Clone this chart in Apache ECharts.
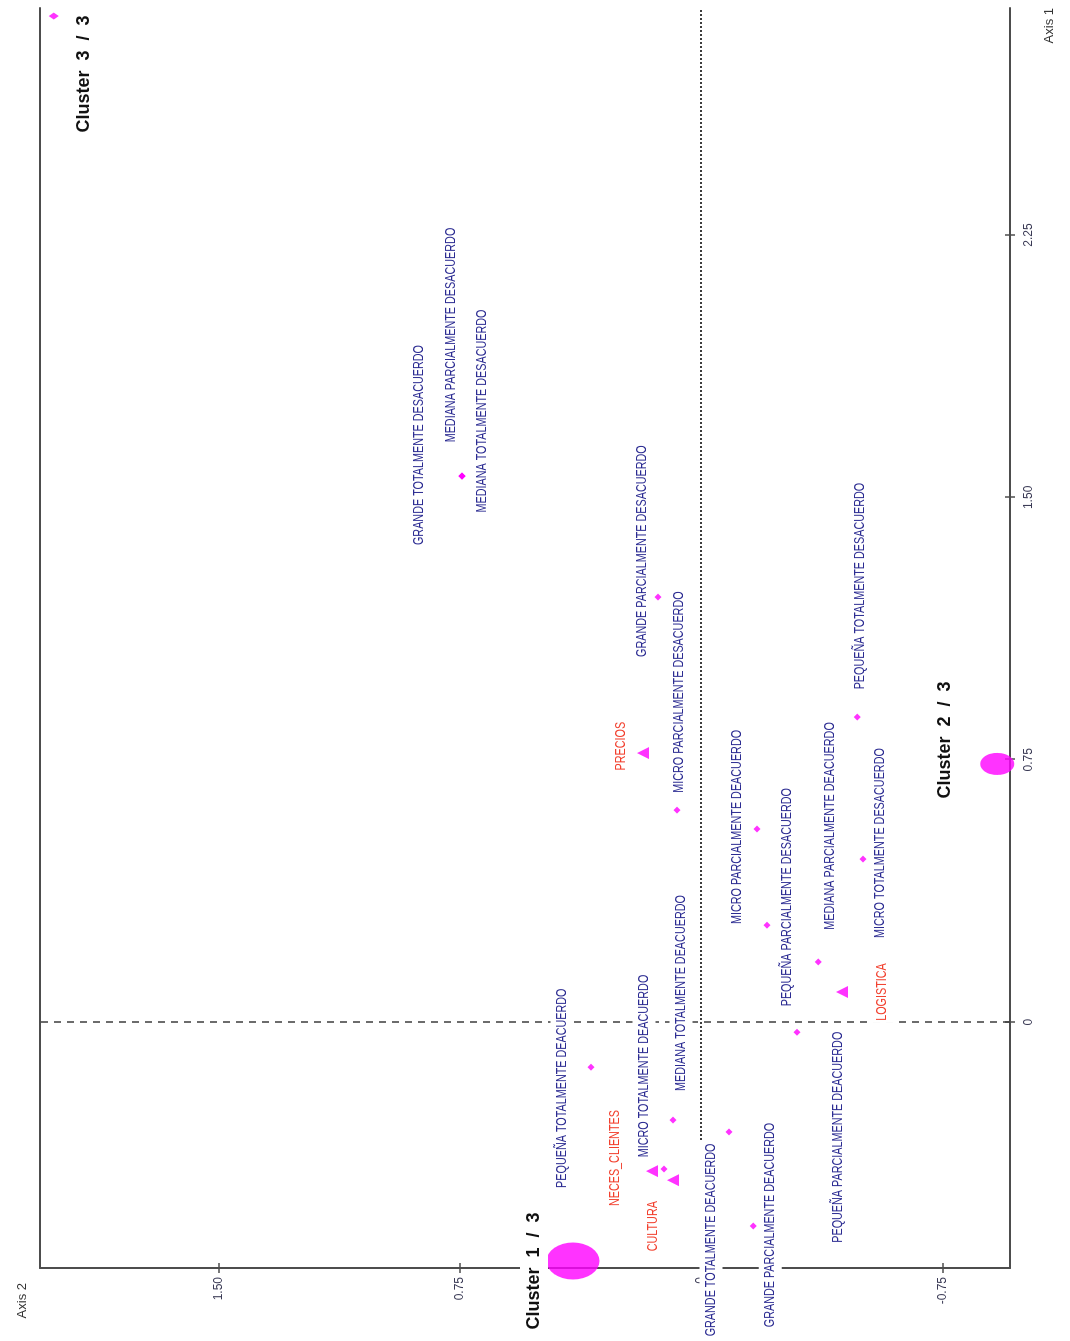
<!DOCTYPE html>
<html>
<head>
<meta charset="utf-8">
<title>Clusters - plano factorial 1-2</title>
<script src="https://cdn.jsdelivr.net/npm/echarts@6/dist/echarts.min.js"></script>
<style>
  html, body { margin: 0; padding: 0; background: #ffffff; width: 1070px; height: 1341px; overflow: hidden; }
  /* The factorial plane is laid out landscape and turned a quarter turn onto the portrait page */
  #plane {
    position: absolute; left: 0; top: 0;
    width: 1341px; height: 1070px;
    transform-origin: 0 0;
    transform: translateY(1341px) rotate(-90deg);
  }
</style>
</head>
<body>
<div id="plane"></div>
<script>
// Active modalities: coordinates on factorial axes 1 and 2
const modalityNames = [
  'GRANDE TOTALMENTE DESACUERDO',
  'MEDIANA PARCIALMENTE DESACUERDO',
  'MEDIANA TOTALMENTE DESACUERDO',
  'GRANDE PARCIALMENTE DESACUERDO',
  'MICRO PARCIALMENTE DESACUERDO',
  'MICRO PARCIALMENTE DEACUERDO',
  'PEQUEÑA TOTALMENTE DESACUERDO',
  'MICRO TOTALMENTE DESACUERDO',
  'PEQUEÑA PARCIALMENTE DESACUERDO',
  'MEDIANA PARCIALMENTE DEACUERDO',
  'PEQUEÑA PARCIALMENTE DEACUERDO',
  'PEQUEÑA TOTALMENTE DEACUERDO',
  'MEDIANA TOTALMENTE DEACUERDO',
  'GRANDE TOTALMENTE DEACUERDO',
  'MICRO TOTALMENTE DEACUERDO',
  'GRANDE PARCIALMENTE DEACUERDO'
];
const modalityAxis1 = [1.561, 1.561, 1.561, 1.215, 0.606, 0.552, 0.872, 0.466, 0.277, 0.172, -0.029, -0.129, -0.280, -0.314, -0.420, -0.583];
const modalityAxis2 = [0.743, 0.743, 0.743, 0.134, 0.075, -0.174, -0.485, -0.503, -0.205, -0.364, -0.298, 0.342, 0.087, -0.087, 0.115, -0.162];

// Supplementary (illustrative) variables
const supplementaryNames = ['PRECIOS', 'LOGISTICA', 'NECES_CLIENTES', 'CULTURA'];
const supplementaryAxis1 = [0.769, 0.086, -0.426, -0.452];
const supplementaryAxis2 = [0.180, -0.438, 0.152, 0.087];

// Cluster centroids
const clusterNames = ['Cluster  1  /  3', 'Cluster  2  /  3', 'Cluster  3  /  3'];
const clusterAxis1 = [-0.683, 0.738, 2.876];
const clusterAxis2 = [0.398, -0.920, 2.011];

// Tick labels
const axis1Ticks = [0, 0.75, 1.5, 2.25];
const axis2Ticks = [-0.75, 0, 0.75, 1.5];

// ---- layout: label shifts (px, relative to their point) and marker shapes ----
const modalityLabelShift = [
  [31, -43], [141, -11], [65, 20], [46, -16], [118, 2], [2, -20], [131, 3], [16, 17],
  [28, 20], [136, 12], [-105, 41], [-21, -29], [127, 8], [-108, -18], [103, -20], [1, 17]
];
const supplementaryLabelShift = [[7, -22], [0, 40], [13, -37], [-46, -20]];
const clusterLabelShift = [[-10, -39], [24, -52], [-58, 30]];
const clusterMarker = [
  { symbol: 'circle', size: [37, 53] },
  { symbol: 'circle', size: [22, 34] },
  { symbol: 'diamond', size: [7, 10] }
];

const MAGENTA = '#ff00ff';
const FRAME = '#4d4d4d';

function pairs(a, b) { return a.map((v, i) => [v, b[i]]); }

// Labels are drawn as text boxes with a white ground, laid over the axes and reference lines
function labelLayer(names, a1, a2, shifts, look) {
  return {
    type: 'custom',
    silent: true,
    z: 10,
    clip: false,
    data: a1.map((v, i) => [v, a2[i], i]),
    encode: { x: 0, y: 1 },
    renderItem(params, api) {
      const i = api.value(2);
      const p = api.coord([api.value(0), api.value(1)]);
      const s = shifts[i];
      return {
        type: 'text',
        x: p[0] + s[0],
        y: p[1] + s[1],
        scaleX: look.scaleX,
        scaleY: 1,
        style: {
          text: names[i],
          fill: look.color,
          font: look.font,
          align: 'center',
          verticalAlign: 'middle',
          backgroundColor: '#ffffff',
          padding: look.padding
        }
      };
    }
  };
}

const tickFormat = v => (v === 0 ? '0' : v.toFixed(2));

const chart = echarts.init(document.getElementById('plane'), null, { renderer: 'canvas', width: 1341, height: 1070 });

chart.setOption({
  animation: false,
  backgroundColor: '#ffffff',
  textStyle: { fontFamily: 'Liberation Sans, Arial, sans-serif' },
  grid: { left: 73, right: 8, top: 40, bottom: 60, containLabel: false, outerBoundsMode: 'none' },
  xAxis: [
    {
      type: 'value', position: 'bottom', min: -0.703, max: 2.899,
      name: 'Axis 1', nameLocation: 'end', nameGap: 0,
      nameTextStyle: { color: '#333', fontSize: 13, align: 'right', verticalAlign: 'top', padding: [33, 0, 0, 0] },
      axisLine: { show: true, onZero: false, lineStyle: { color: FRAME, width: 2 } },
      axisTick: { show: true, customValues: axis1Ticks, length: 5, lineStyle: { color: FRAME, width: 1.5 } },
      axisLabel: { show: true, customValues: axis1Ticks, formatter: tickFormat, margin: 13, fontSize: 12, color: '#3a3a55' },
      splitLine: { show: false }
    },
    {
      type: 'value', position: 'top', min: -0.703, max: 2.899,
      axisLine: { show: true, onZero: false, lineStyle: { color: FRAME, width: 2 } },
      axisTick: { show: false }, axisLabel: { show: false }, splitLine: { show: false }
    },
    {
      type: 'value', position: 'bottom', min: -0.703, max: 2.899,
      axisLine: { show: false, onZero: false },
      axisTick: { show: true, inside: true, customValues: axis1Ticks, length: 5, lineStyle: { color: FRAME, width: 1.5 } },
      axisLabel: { show: false }, splitLine: { show: false }
    }
  ],
  yAxis: [
    {
      type: 'value', position: 'left', min: -0.960, max: 2.054,
      name: 'Axis 2', nameLocation: 'end', nameGap: 18,
      nameTextStyle: { color: '#333', fontSize: 13, align: 'right', verticalAlign: 'middle', padding: [0, 15, 0, 0] },
      axisLine: { show: true, onZero: false, lineStyle: { color: FRAME, width: 2 } },
      axisTick: { show: true, customValues: axis2Ticks, length: 5, lineStyle: { color: FRAME, width: 1.5 } },
      axisLabel: { show: true, customValues: axis2Ticks, formatter: tickFormat, margin: 9, fontSize: 12, color: '#3a3a55' },
      splitLine: { show: false }
    },
    {
      type: 'value', position: 'left', min: -0.960, max: 2.054,
      axisLine: { show: false, onZero: false },
      axisTick: { show: true, inside: true, customValues: axis2Ticks, length: 5, lineStyle: { color: FRAME, width: 1.5 } },
      axisLabel: { show: false }, splitLine: { show: false }
    }
  ],
  series: [
    {
      name: 'Modalidades',
      type: 'scatter',
      z: 3,
      clip: false,
      silent: true,
      symbol: 'diamond',
      symbolSize: 7,
      itemStyle: { color: MAGENTA },
      data: pairs(modalityAxis1, modalityAxis2),
      markLine: {
        silent: true,
        symbol: 'none',
        label: { show: false },
        data: [
          { xAxis: 0, lineStyle: { type: [7, 6], color: '#3d3d3d', width: 1.5 } },
          { yAxis: 0, lineStyle: { type: [2, 2], color: '#3d3d3d', width: 2 } }
        ]
      }
    },
    {
      name: 'Ilustrativas',
      type: 'scatter',
      z: 3,
      clip: false,
      silent: true,
      symbol: 'triangle',
      symbolSize: 12,
      itemStyle: { color: MAGENTA },
      data: pairs(supplementaryAxis1, supplementaryAxis2)
    },
    {
      name: 'Clusters',
      type: 'scatter',
      z: 4,
      clip: false,
      silent: true,
      itemStyle: { color: MAGENTA },
      data: clusterAxis1.map((v, i) => ({
        value: [v, clusterAxis2[i]],
        symbol: clusterMarker[i].symbol,
        symbolSize: clusterMarker[i].size
      }))
    },
    labelLayer(modalityNames, modalityAxis1, modalityAxis2, modalityLabelShift,
      { font: '15px "Liberation Sans", Arial, sans-serif', color: '#2c2c92', scaleX: 0.72, padding: [4, 3] }),
    labelLayer(supplementaryNames, supplementaryAxis1, supplementaryAxis2, supplementaryLabelShift,
      { font: '15px "Liberation Sans", Arial, sans-serif', color: '#f2402e', scaleX: 0.72, padding: [4, 3] }),
    labelLayer(clusterNames, clusterAxis1, clusterAxis2, clusterLabelShift,
      { font: 'bold 18px "Liberation Sans", Arial, sans-serif', color: '#111111', scaleX: 1, padding: [5, 3] })
  ]
});
</script>
</body>
</html>
